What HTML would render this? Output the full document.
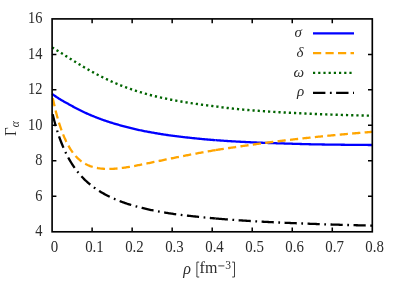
<!DOCTYPE html>
<html><head><meta charset="utf-8"><style>
html,body{margin:0;padding:0;background:#fff;}
body{width:400px;height:281px;overflow:hidden;position:relative;font-family:"Liberation Serif",serif;}
svg{position:absolute;left:0;top:0;will-change:transform;}
text{font-family:"Liberation Serif",serif;fill:#2b2b2b;}
</style></head><body>
<svg width="400" height="281" viewBox="0 0 400 281">
<rect x="0" y="0" width="400" height="281" fill="#fff"/>
<g fill="none" stroke-width="2.3" stroke-linecap="butt" stroke-linejoin="round">
<path d="M52.10,93.90 L53.10,94.62 L54.10,95.34 L55.10,96.04 L56.10,96.74 L57.10,97.42 L58.10,98.07 L59.10,98.71 L60.11,99.32 L61.11,99.91 L62.11,100.49 L63.11,101.06 L64.11,101.63 L65.11,102.20 L66.11,102.76 L67.11,103.31 L68.11,103.87 L69.11,104.42 L70.11,104.97 L71.11,105.52 L72.11,106.07 L73.11,106.62 L74.11,107.16 L75.11,107.71 L76.11,108.24 L77.12,108.77 L78.12,109.30 L79.12,109.82 L80.12,110.32 L81.12,110.82 L82.12,111.31 L83.12,111.79 L84.12,112.25 L85.12,112.71 L86.12,113.16 L87.12,113.61 L88.12,114.04 L89.12,114.47 L90.12,114.90 L91.12,115.32 L92.12,115.73 L93.13,116.14 L94.13,116.55 L95.13,116.95 L96.13,117.34 L97.13,117.74 L98.13,118.12 L99.13,118.50 L100.13,118.88 L101.13,119.24 L102.13,119.61 L103.13,119.97 L104.13,120.32 L105.13,120.67 L106.13,121.01 L107.13,121.35 L108.14,121.68 L109.14,122.01 L110.14,122.33 L111.14,122.64 L112.14,122.95 L113.14,123.25 L114.14,123.55 L115.14,123.85 L116.14,124.14 L117.14,124.43 L118.14,124.71 L119.14,124.99 L120.14,125.27 L121.14,125.55 L122.14,125.82 L123.14,126.08 L124.14,126.34 L125.15,126.60 L126.15,126.85 L127.15,127.11 L128.15,127.36 L129.15,127.60 L130.15,127.85 L131.15,128.10 L132.15,128.35 L133.15,128.60 L134.15,128.85 L135.15,129.09 L136.15,129.33 L137.15,129.57 L138.15,129.80 L139.15,130.03 L140.16,130.25 L141.16,130.47 L142.16,130.68 L143.16,130.88 L144.16,131.08 L145.16,131.27 L146.16,131.46 L147.16,131.64 L148.16,131.82 L149.16,132.00 L150.16,132.18 L151.16,132.36 L152.16,132.54 L153.16,132.72 L154.16,132.90 L155.16,133.08 L156.16,133.25 L157.17,133.43 L158.17,133.60 L159.17,133.76 L160.17,133.93 L161.17,134.09 L162.17,134.25 L163.17,134.41 L164.17,134.57 L165.17,134.72 L166.17,134.86 L167.17,135.01 L168.17,135.15 L169.17,135.29 L170.17,135.42 L171.17,135.55 L172.17,135.68 L173.18,135.81 L174.18,135.94 L175.18,136.07 L176.18,136.19 L177.18,136.32 L178.18,136.44 L179.18,136.57 L180.18,136.69 L181.18,136.81 L182.18,136.93 L183.18,137.05 L184.18,137.16 L185.18,137.28 L186.18,137.39 L187.18,137.51 L188.19,137.62 L189.19,137.73 L190.19,137.84 L191.19,137.95 L192.19,138.05 L193.19,138.16 L194.19,138.26 L195.19,138.37 L196.19,138.47 L197.19,138.57 L198.19,138.67 L199.19,138.76 L200.19,138.86 L201.19,138.95 L202.19,139.05 L203.19,139.14 L204.19,139.23 L205.20,139.32 L206.20,139.40 L207.20,139.49 L208.20,139.58 L209.20,139.66 L210.20,139.74 L211.20,139.83 L212.20,139.91 L213.20,139.99 L214.20,140.06 L215.20,140.14 L215.70,140.18" stroke="#0000ff" stroke-dashoffset="0"/>
<path d="M215.70,140.18 L216.20,140.22 L217.20,140.29 L218.20,140.37 L219.20,140.44 L220.20,140.51 L221.21,140.58 L222.21,140.65 L223.21,140.72 L224.21,140.79 L225.21,140.86 L226.21,140.92 L227.21,140.99 L228.21,141.05 L229.21,141.11 L230.21,141.18 L231.21,141.24 L232.21,141.30 L233.21,141.36 L234.21,141.42 L235.21,141.47 L236.21,141.53 L237.22,141.59 L238.22,141.64 L239.22,141.70 L240.22,141.75 L241.22,141.80 L242.22,141.86 L243.22,141.91 L244.22,141.96 L245.22,142.01 L246.22,142.06 L247.22,142.11 L248.22,142.15 L249.22,142.20 L250.22,142.25 L251.22,142.29 L252.22,142.34 L253.23,142.38 L254.23,142.43 L255.23,142.47 L256.23,142.51 L257.23,142.55 L258.23,142.60 L259.23,142.64 L260.23,142.68 L261.23,142.72 L262.23,142.76 L263.23,142.79 L264.23,142.83 L265.23,142.87 L266.23,142.91 L267.23,142.94 L268.24,142.98 L269.24,143.02 L270.24,143.05 L271.24,143.09 L272.24,143.12 L273.24,143.15 L274.24,143.19 L275.24,143.22 L276.24,143.25 L277.24,143.29 L278.24,143.32 L279.24,143.35 L280.24,143.38 L281.24,143.41 L282.24,143.44 L283.24,143.47 L284.24,143.51 L285.25,143.54 L286.25,143.57 L287.25,143.60 L288.25,143.63 L289.25,143.66 L290.25,143.69 L291.25,143.72 L292.25,143.76 L293.25,143.79 L294.25,143.82 L295.25,143.85 L296.25,143.88 L297.25,143.91 L298.25,143.94 L299.25,143.96 L300.25,143.99 L301.26,144.02 L302.26,144.05 L303.26,144.08 L304.26,144.10 L305.26,144.13 L306.26,144.16 L307.26,144.18 L308.26,144.21 L309.26,144.23 L310.26,144.26 L311.26,144.28 L312.26,144.30 L313.26,144.32 L314.26,144.34 L315.26,144.36 L316.26,144.38 L317.27,144.40 L318.27,144.42 L319.27,144.44 L320.27,144.45 L321.27,144.47 L322.27,144.48 L323.27,144.50 L324.27,144.51 L325.27,144.53 L326.27,144.54 L327.27,144.56 L328.27,144.57 L329.27,144.59 L330.27,144.60 L331.27,144.61 L332.28,144.63 L333.28,144.64 L334.28,144.65 L335.28,144.66 L336.28,144.68 L337.28,144.69 L338.28,144.70 L339.28,144.71 L340.28,144.72 L341.28,144.74 L342.28,144.75 L343.28,144.76 L344.28,144.77 L345.28,144.78 L346.28,144.79 L347.28,144.80 L348.28,144.81 L349.29,144.82 L350.29,144.83 L351.29,144.84 L352.29,144.85 L353.29,144.86 L354.29,144.87 L355.29,144.88 L356.29,144.89 L357.29,144.90 L358.29,144.90 L359.29,144.91 L360.29,144.92 L361.29,144.93 L362.29,144.94 L363.29,144.94 L364.30,144.95 L365.30,144.96 L366.30,144.97 L367.30,144.97 L368.30,144.98 L369.30,144.99 L370.30,145.00 L371.30,145.00 L372.30,145.01" stroke="#0000ff" stroke-dashoffset="0"/>
<path d="M52.10,94.93 L53.10,99.75 L54.10,104.27 L55.10,108.52 L56.10,112.51 L57.10,116.26 L58.10,119.78 L59.10,123.08 L60.11,126.19 L61.11,129.10 L62.11,131.84 L63.11,134.42 L64.11,136.83 L65.11,139.10 L66.11,141.24 L67.11,143.24 L68.11,145.13 L69.11,146.90 L70.11,148.56 L71.11,150.12 L72.11,151.58 L73.11,152.95 L74.11,154.24 L75.11,155.44 L76.11,156.56 L77.12,157.61 L78.12,158.58 L79.12,159.49 L80.12,160.34 L81.12,161.12 L82.12,161.85 L83.12,162.53 L84.12,163.16 L85.12,163.75 L86.12,164.29 L87.12,164.79 L88.12,165.26 L89.12,165.68 L90.12,166.08 L91.12,166.44 L92.12,166.77 L93.13,167.07 L94.13,167.34 L95.13,167.59 L96.13,167.81 L97.13,168.00 L98.13,168.18 L99.13,168.33 L100.13,168.47 L101.13,168.58 L102.13,168.68 L103.13,168.76 L104.13,168.82 L105.13,168.87 L106.13,168.91 L107.13,168.93 L108.14,168.93 L109.14,168.93 L110.14,168.91 L111.14,168.88 L112.14,168.84 L113.14,168.80 L114.14,168.74 L115.14,168.67 L116.14,168.59 L117.14,168.51 L118.14,168.41 L119.14,168.31 L120.14,168.20 L121.14,168.08 L122.14,167.95 L123.14,167.82 L124.14,167.68 L125.15,167.53 L126.15,167.38 L127.15,167.23 L128.15,167.06 L129.15,166.90 L130.15,166.73 L131.15,166.55 L132.15,166.38 L133.15,166.19 L134.15,166.01 L135.15,165.82 L136.15,165.63 L137.15,165.44 L138.15,165.24 L139.15,165.05 L140.16,164.85 L141.16,164.65 L142.16,164.45 L143.16,164.25 L144.16,164.04 L145.16,163.84 L146.16,163.64 L147.16,163.43 L148.16,163.23 L149.16,163.02 L150.16,162.82 L151.16,162.61 L152.16,162.41 L153.16,162.20 L154.16,161.99 L155.16,161.79 L156.16,161.58 L157.17,161.37 L158.17,161.16 L159.17,160.95 L160.17,160.75 L161.17,160.54 L162.17,160.33 L163.17,160.12 L164.17,159.91 L165.17,159.70 L166.17,159.49 L167.17,159.29 L168.17,159.08 L169.17,158.87 L170.17,158.66 L171.17,158.46 L172.17,158.25 L173.18,158.05 L174.18,157.84 L175.18,157.64 L176.18,157.44 L177.18,157.23 L178.18,157.03 L179.18,156.83 L180.18,156.63 L181.18,156.43 L182.18,156.23 L183.18,156.03 L184.18,155.84 L185.18,155.64 L186.18,155.45 L187.18,155.25 L188.19,155.06 L189.19,154.87 L190.19,154.68 L191.19,154.49 L192.19,154.30 L193.19,154.11 L194.19,153.92 L195.19,153.73 L196.19,153.55 L197.19,153.36 L198.19,153.17 L199.19,152.99 L200.19,152.81 L201.19,152.62 L202.19,152.44 L203.19,152.26 L204.19,152.08 L205.20,151.90 L206.20,151.72 L207.20,151.54 L208.20,151.37 L209.20,151.19 L210.20,151.01 L211.20,150.84 L212.20,150.66 L213.20,150.49 L214.20,150.32 L215.20,150.15 L215.70,150.06" stroke="#ffa500" stroke-dasharray="8.2 4.3" stroke-dashoffset="-3.5"/>
<path d="M215.70,150.06 L216.20,149.98 L217.20,149.81 L218.20,149.65 L219.20,149.49 L220.20,149.33 L221.21,149.17 L222.21,149.02 L223.21,148.87 L224.21,148.72 L225.21,148.57 L226.21,148.42 L227.21,148.28 L228.21,148.13 L229.21,147.99 L230.21,147.84 L231.21,147.70 L232.21,147.56 L233.21,147.42 L234.21,147.27 L235.21,147.13 L236.21,146.99 L237.22,146.84 L238.22,146.70 L239.22,146.55 L240.22,146.41 L241.22,146.26 L242.22,146.11 L243.22,145.97 L244.22,145.82 L245.22,145.67 L246.22,145.53 L247.22,145.39 L248.22,145.24 L249.22,145.10 L250.22,144.96 L251.22,144.82 L252.22,144.68 L253.23,144.54 L254.23,144.40 L255.23,144.26 L256.23,144.12 L257.23,143.98 L258.23,143.85 L259.23,143.71 L260.23,143.58 L261.23,143.44 L262.23,143.31 L263.23,143.17 L264.23,143.04 L265.23,142.91 L266.23,142.78 L267.23,142.64 L268.24,142.51 L269.24,142.38 L270.24,142.25 L271.24,142.13 L272.24,142.00 L273.24,141.87 L274.24,141.74 L275.24,141.62 L276.24,141.49 L277.24,141.37 L278.24,141.24 L279.24,141.12 L280.24,140.99 L281.24,140.87 L282.24,140.75 L283.24,140.63 L284.24,140.51 L285.25,140.39 L286.25,140.27 L287.25,140.15 L288.25,140.03 L289.25,139.91 L290.25,139.80 L291.25,139.68 L292.25,139.56 L293.25,139.45 L294.25,139.33 L295.25,139.22 L296.25,139.10 L297.25,138.99 L298.25,138.88 L299.25,138.77 L300.25,138.65 L301.26,138.54 L302.26,138.43 L303.26,138.32 L304.26,138.21 L305.26,138.10 L306.26,138.00 L307.26,137.89 L308.26,137.78 L309.26,137.67 L310.26,137.57 L311.26,137.46 L312.26,137.36 L313.26,137.25 L314.26,137.15 L315.26,137.04 L316.26,136.94 L317.27,136.84 L318.27,136.73 L319.27,136.63 L320.27,136.53 L321.27,136.43 L322.27,136.33 L323.27,136.23 L324.27,136.13 L325.27,136.03 L326.27,135.93 L327.27,135.83 L328.27,135.73 L329.27,135.64 L330.27,135.54 L331.27,135.44 L332.28,135.35 L333.28,135.25 L334.28,135.16 L335.28,135.06 L336.28,134.97 L337.28,134.87 L338.28,134.78 L339.28,134.69 L340.28,134.59 L341.28,134.50 L342.28,134.41 L343.28,134.32 L344.28,134.23 L345.28,134.14 L346.28,134.05 L347.28,133.96 L348.28,133.87 L349.29,133.78 L350.29,133.69 L351.29,133.60 L352.29,133.51 L353.29,133.42 L354.29,133.34 L355.29,133.25 L356.29,133.16 L357.29,133.08 L358.29,132.99 L359.29,132.90 L360.29,132.82 L361.29,132.73 L362.29,132.65 L363.29,132.57 L364.30,132.48 L365.30,132.40 L366.30,132.32 L367.30,132.23 L368.30,132.15 L369.30,132.07 L370.30,131.99 L371.30,131.90 L372.30,131.82" stroke="#ffa500" stroke-dasharray="8.2 4.3" stroke-dashoffset="0"/>
<path d="M52.10,47.44 L53.10,48.04 L54.10,48.65 L55.10,49.25 L56.10,49.87 L57.10,50.48 L58.10,51.10 L59.10,51.72 L60.11,52.35 L61.11,52.98 L62.11,53.60 L63.11,54.23 L64.11,54.87 L65.11,55.50 L66.11,56.13 L67.11,56.76 L68.11,57.39 L69.11,58.02 L70.11,58.65 L71.11,59.28 L72.11,59.91 L73.11,60.53 L74.11,61.15 L75.11,61.77 L76.11,62.39 L77.12,63.01 L78.12,63.62 L79.12,64.23 L80.12,64.83 L81.12,65.43 L82.12,66.03 L83.12,66.63 L84.12,67.22 L85.12,67.80 L86.12,68.39 L87.12,68.96 L88.12,69.54 L89.12,70.10 L90.12,70.67 L91.12,71.23 L92.12,71.78 L93.13,72.33 L94.13,72.87 L95.13,73.41 L96.13,73.95 L97.13,74.48 L98.13,75.00 L99.13,75.52 L100.13,76.03 L101.13,76.54 L102.13,77.04 L103.13,77.53 L104.13,78.02 L105.13,78.51 L106.13,78.99 L107.13,79.46 L108.14,79.93 L109.14,80.39 L110.14,80.85 L111.14,81.30 L112.14,81.75 L113.14,82.19 L114.14,82.62 L115.14,83.05 L116.14,83.48 L117.14,83.90 L118.14,84.31 L119.14,84.72 L120.14,85.12 L121.14,85.52 L122.14,85.92 L123.14,86.30 L124.14,86.69 L125.15,87.07 L126.15,87.44 L127.15,87.81 L128.15,88.17 L129.15,88.53 L130.15,88.88 L131.15,89.23 L132.15,89.58 L133.15,89.92 L134.15,90.25 L135.15,90.58 L136.15,90.91 L137.15,91.23 L138.15,91.55 L139.15,91.86 L140.16,92.17 L141.16,92.47 L142.16,92.77 L143.16,93.07 L144.16,93.36 L145.16,93.64 L146.16,93.92 L147.16,94.20 L148.16,94.47 L149.16,94.73 L150.16,95.00 L151.16,95.26 L152.16,95.51 L153.16,95.76 L154.16,96.01 L155.16,96.25 L156.16,96.49 L157.17,96.72 L158.17,96.96 L159.17,97.19 L160.17,97.41 L161.17,97.63 L162.17,97.85 L163.17,98.07 L164.17,98.28 L165.17,98.49 L166.17,98.70 L167.17,98.90 L168.17,99.11 L169.17,99.31 L170.17,99.50 L171.17,99.70 L172.17,99.89 L173.18,100.08 L174.18,100.27 L175.18,100.46 L176.18,100.64 L177.18,100.83 L178.18,101.01 L179.18,101.19 L180.18,101.36 L181.18,101.54 L182.18,101.71 L183.18,101.88 L184.18,102.05 L185.18,102.22 L186.18,102.38 L187.18,102.55 L188.19,102.71 L189.19,102.86 L190.19,103.02 L191.19,103.17 L192.19,103.33 L193.19,103.48 L194.19,103.62 L195.19,103.77 L196.19,103.92 L197.19,104.06 L198.19,104.20 L199.19,104.34 L200.19,104.48 L201.19,104.61 L202.19,104.75 L203.19,104.88 L204.19,105.01 L205.20,105.14 L206.20,105.27 L207.20,105.39 L208.20,105.52 L209.20,105.64 L210.20,105.76 L211.20,105.88 L212.20,106.00 L213.20,106.12 L214.20,106.24 L215.20,106.35 L216.20,106.47 L216.30,106.48" stroke="#006400" stroke-width="2.4" stroke-dasharray="2.2 3.0" stroke-dashoffset="0"/>
<path d="M216.30,106.48 L217.20,106.58 L218.20,106.69 L219.20,106.84 L220.20,107.02 L221.21,107.19 L222.21,107.33 L223.21,107.46 L224.21,107.58 L225.21,107.70 L226.21,107.82 L227.21,107.94 L228.21,108.05 L229.21,108.17 L230.21,108.28 L231.21,108.39 L232.21,108.50 L233.21,108.61 L234.21,108.71 L235.21,108.81 L236.21,108.92 L237.22,109.02 L238.22,109.11 L239.22,109.21 L240.22,109.31 L241.22,109.40 L242.22,109.49 L243.22,109.59 L244.22,109.68 L245.22,109.76 L246.22,109.85 L247.22,109.94 L248.22,110.02 L249.22,110.11 L250.22,110.19 L251.22,110.27 L252.22,110.35 L253.23,110.43 L254.23,110.51 L255.23,110.59 L256.23,110.66 L257.23,110.74 L258.23,110.81 L259.23,110.89 L260.23,110.96 L261.23,111.03 L262.23,111.10 L263.23,111.17 L264.23,111.24 L265.23,111.31 L266.23,111.38 L267.23,111.45 L268.24,111.51 L269.24,111.58 L270.24,111.65 L271.24,111.71 L272.24,111.77 L273.24,111.84 L274.24,111.90 L275.24,111.96 L276.24,112.02 L277.24,112.08 L278.24,112.14 L279.24,112.20 L280.24,112.26 L281.24,112.32 L282.24,112.38 L283.24,112.43 L284.24,112.49 L285.25,112.55 L286.25,112.60 L287.25,112.66 L288.25,112.71 L289.25,112.76 L290.25,112.82 L291.25,112.87 L292.25,112.92 L293.25,112.97 L294.25,113.02 L295.25,113.07 L296.25,113.12 L297.25,113.17 L298.25,113.22 L299.25,113.27 L300.25,113.32 L301.26,113.36 L302.26,113.41 L303.26,113.46 L304.26,113.50 L305.26,113.55 L306.26,113.59 L307.26,113.64 L308.26,113.68 L309.26,113.73 L310.26,113.77 L311.26,113.81 L312.26,113.85 L313.26,113.90 L314.26,113.94 L315.26,113.98 L316.26,114.02 L317.27,114.06 L318.27,114.10 L319.27,114.14 L320.27,114.18 L321.27,114.21 L322.27,114.25 L323.27,114.29 L324.27,114.33 L325.27,114.36 L326.27,114.40 L327.27,114.44 L328.27,114.47 L329.27,114.51 L330.27,114.54 L331.27,114.58 L332.28,114.61 L333.28,114.65 L334.28,114.68 L335.28,114.71 L336.28,114.75 L337.28,114.78 L338.28,114.81 L339.28,114.84 L340.28,114.87 L341.28,114.91 L342.28,114.94 L343.28,114.97 L344.28,115.00 L345.28,115.03 L346.28,115.06 L347.28,115.09 L348.28,115.12 L349.29,115.14 L350.29,115.17 L351.29,115.20 L352.29,115.23 L353.29,115.26 L354.29,115.28 L355.29,115.31 L356.29,115.34 L357.29,115.36 L358.29,115.39 L359.29,115.41 L360.29,115.44 L361.29,115.47 L362.29,115.49 L363.29,115.51 L364.30,115.54 L365.30,115.56 L366.30,115.59 L367.30,115.61 L368.30,115.63 L369.30,115.66 L370.30,115.68 L371.30,115.70 L372.30,115.72" stroke="#006400" stroke-width="2.4" stroke-dasharray="2.2 3.0" stroke-dashoffset="0"/>
<path d="M52.10,111.91 L53.10,116.10 L54.10,120.04 L55.10,123.74 L56.10,127.23 L57.10,130.53 L58.10,133.64 L59.10,136.59 L60.11,139.38 L61.11,142.03 L62.11,144.54 L63.11,146.93 L64.11,149.21 L65.11,151.38 L66.11,153.45 L67.11,155.43 L68.11,157.32 L69.11,159.12 L70.11,160.85 L71.11,162.51 L72.11,164.10 L73.11,165.62 L74.11,167.09 L75.11,168.50 L76.11,169.85 L77.12,171.16 L78.12,172.42 L79.12,173.63 L80.12,174.79 L81.12,175.92 L82.12,177.01 L83.12,178.06 L84.12,179.07 L85.12,180.06 L86.12,181.00 L87.12,181.92 L88.12,182.81 L89.12,183.67 L90.12,184.50 L91.12,185.31 L92.12,186.09 L93.13,186.84 L94.13,187.58 L95.13,188.29 L96.13,188.99 L97.13,189.66 L98.13,190.31 L99.13,190.95 L100.13,191.57 L101.13,192.17 L102.13,192.76 L103.13,193.33 L104.13,193.88 L105.13,194.43 L106.13,194.96 L107.13,195.47 L108.14,195.98 L109.14,196.47 L110.14,196.95 L111.14,197.42 L112.14,197.88 L113.14,198.33 L114.14,198.77 L115.14,199.20 L116.14,199.62 L117.14,200.04 L118.14,200.44 L119.14,200.84 L120.14,201.22 L121.14,201.60 L122.14,201.98 L123.14,202.34 L124.14,202.69 L125.15,203.04 L126.15,203.38 L127.15,203.72 L128.15,204.05 L129.15,204.36 L130.15,204.68 L131.15,204.98 L132.15,205.28 L133.15,205.58 L134.15,205.87 L135.15,206.15 L136.15,206.43 L137.15,206.70 L138.15,206.97 L139.15,207.23 L140.16,207.49 L141.16,207.74 L142.16,207.99 L143.16,208.24 L144.16,208.48 L145.16,208.71 L146.16,208.94 L147.16,209.17 L148.16,209.39 L149.16,209.61 L150.16,209.82 L151.16,210.03 L152.16,210.24 L153.16,210.44 L154.16,210.64 L155.16,210.83 L156.16,211.03 L157.17,211.22 L158.17,211.40 L159.17,211.58 L160.17,211.76 L161.17,211.94 L162.17,212.12 L163.17,212.29 L164.17,212.46 L165.17,212.63 L166.17,212.79 L167.17,212.95 L168.17,213.11 L169.17,213.27 L170.17,213.42 L171.17,213.58 L172.17,213.73 L173.18,213.88 L174.18,214.02 L175.18,214.17 L176.18,214.31 L177.18,214.45 L178.18,214.58 L179.18,214.72 L180.18,214.84 L181.18,214.97 L182.18,215.09 L183.18,215.21 L184.18,215.32 L185.18,215.43 L186.18,215.54 L187.18,215.65 L188.19,215.76 L189.19,215.87 L190.19,215.97 L191.19,216.08 L192.19,216.18 L193.19,216.29 L194.19,216.39 L195.19,216.49 L196.19,216.60 L197.19,216.70 L198.19,216.81 L199.19,216.92 L200.19,217.02 L201.19,217.12 L202.19,217.23 L203.19,217.33 L204.19,217.43 L205.20,217.53 L206.20,217.62 L207.20,217.72 L208.20,217.81 L209.20,217.91 L210.20,218.00 L211.20,218.09 L212.20,218.18 L213.20,218.27 L214.20,218.36 L215.20,218.45 L215.70,218.50" stroke="#000" stroke-dasharray="12.2 4.55 1.75 4.5" stroke-dashoffset="-2.5"/>
<path d="M215.70,218.50 L216.20,218.54 L217.20,218.62 L218.20,218.71 L219.20,218.79 L220.20,218.88 L221.21,218.96 L222.21,219.04 L223.21,219.12 L224.21,219.20 L225.21,219.28 L226.21,219.36 L227.21,219.44 L228.21,219.51 L229.21,219.59 L230.21,219.66 L231.21,219.74 L232.21,219.81 L233.21,219.88 L234.21,219.96 L235.21,220.03 L236.21,220.10 L237.22,220.17 L238.22,220.24 L239.22,220.31 L240.22,220.37 L241.22,220.44 L242.22,220.51 L243.22,220.57 L244.22,220.64 L245.22,220.70 L246.22,220.76 L247.22,220.83 L248.22,220.89 L249.22,220.95 L250.22,221.01 L251.22,221.07 L252.22,221.13 L253.23,221.19 L254.23,221.25 L255.23,221.30 L256.23,221.36 L257.23,221.42 L258.23,221.47 L259.23,221.53 L260.23,221.58 L261.23,221.64 L262.23,221.69 L263.23,221.74 L264.23,221.80 L265.23,221.85 L266.23,221.90 L267.23,221.95 L268.24,222.00 L269.24,222.05 L270.24,222.10 L271.24,222.15 L272.24,222.20 L273.24,222.24 L274.24,222.29 L275.24,222.34 L276.24,222.39 L277.24,222.43 L278.24,222.48 L279.24,222.52 L280.24,222.57 L281.24,222.62 L282.24,222.66 L283.24,222.70 L284.24,222.75 L285.25,222.79 L286.25,222.84 L287.25,222.88 L288.25,222.92 L289.25,222.96 L290.25,223.01 L291.25,223.05 L292.25,223.09 L293.25,223.13 L294.25,223.17 L295.25,223.21 L296.25,223.25 L297.25,223.29 L298.25,223.33 L299.25,223.37 L300.25,223.41 L301.26,223.45 L302.26,223.49 L303.26,223.53 L304.26,223.57 L305.26,223.61 L306.26,223.64 L307.26,223.68 L308.26,223.72 L309.26,223.76 L310.26,223.79 L311.26,223.83 L312.26,223.86 L313.26,223.90 L314.26,223.94 L315.26,223.97 L316.26,224.01 L317.27,224.04 L318.27,224.08 L319.27,224.11 L320.27,224.14 L321.27,224.18 L322.27,224.21 L323.27,224.25 L324.27,224.28 L325.27,224.31 L326.27,224.35 L327.27,224.38 L328.27,224.41 L329.27,224.44 L330.27,224.47 L331.27,224.51 L332.28,224.54 L333.28,224.57 L334.28,224.60 L335.28,224.63 L336.28,224.66 L337.28,224.69 L338.28,224.72 L339.28,224.75 L340.28,224.78 L341.28,224.81 L342.28,224.84 L343.28,224.87 L344.28,224.90 L345.28,224.93 L346.28,224.96 L347.28,224.99 L348.28,225.01 L349.29,225.04 L350.29,225.07 L351.29,225.10 L352.29,225.13 L353.29,225.15 L354.29,225.18 L355.29,225.21 L356.29,225.24 L357.29,225.26 L358.29,225.29 L359.29,225.32 L360.29,225.34 L361.29,225.37 L362.29,225.40 L363.29,225.42 L364.30,225.45 L365.30,225.47 L366.30,225.50 L367.30,225.52 L368.30,225.55 L369.30,225.58 L370.30,225.60 L371.30,225.63 L372.30,225.65" stroke="#000" stroke-dasharray="12.2 4.55 1.75 4.5" stroke-dashoffset="0"/>
<path d="M313,33.35 H354" stroke="#0000ff" stroke-width="2.2"/>
<path d="M313,53.15 H354" stroke="#ffa500" stroke-width="2.2" stroke-dasharray="8.2 4.3"/>
<path d="M313,72.9 H354" stroke="#006400" stroke-width="2.3" stroke-dasharray="2.2 3"/>
<path d="M313,92.85 H354" stroke="#000" stroke-width="2.4" stroke-dasharray="12.4 4.5 1.8 4.4"/>
</g>
<g fill="none" stroke="#000" stroke-width="1.5">
<path d="M92.12,231.8 v-4.3 M92.12,18.9 v4.3" />
<path d="M132.15,231.8 v-4.3 M132.15,18.9 v4.3" />
<path d="M172.17,231.8 v-4.3 M172.17,18.9 v4.3" />
<path d="M212.20,231.8 v-4.3 M212.20,18.9 v4.3" />
<path d="M252.22,231.8 v-4.3 M252.22,18.9 v4.3" />
<path d="M292.25,231.8 v-4.3 M292.25,18.9 v4.3" />
<path d="M332.28,231.8 v-4.3 M332.28,18.9 v4.3" />
<path d="M52.1,54.38 h4.3 M372.3,54.38 h-4.3" />
<path d="M52.1,89.87 h4.3 M372.3,89.87 h-4.3" />
<path d="M52.1,125.35 h4.3 M372.3,125.35 h-4.3" />
<path d="M52.1,160.83 h4.3 M372.3,160.83 h-4.3" />
<path d="M52.1,196.32 h4.3 M372.3,196.32 h-4.3" />
</g>
<rect x="52.1" y="18.9" width="320.20" height="212.90" fill="none" stroke="#000" stroke-width="1.65"/>
<g font-size="16" text-anchor="end">
<text transform="translate(42.4,23.20) scale(0.90,1)">16</text>
<text transform="translate(42.4,58.68) scale(0.90,1)">14</text>
<text transform="translate(42.4,94.17) scale(0.90,1)">12</text>
<text transform="translate(42.4,129.65) scale(0.90,1)">10</text>
<text transform="translate(42.4,165.13) scale(0.90,1)">8</text>
<text transform="translate(42.4,200.62) scale(0.90,1)">6</text>
<text transform="translate(42.4,236.10) scale(0.90,1)">4</text>
</g>
<g font-size="16" text-anchor="middle">
<text transform="translate(54.40,251.8) scale(0.93,1)">0</text>
<text transform="translate(94.42,251.8) scale(0.93,1)">0.1</text>
<text transform="translate(134.45,251.8) scale(0.93,1)">0.2</text>
<text transform="translate(174.47,251.8) scale(0.93,1)">0.3</text>
<text transform="translate(214.50,251.8) scale(0.93,1)">0.4</text>
<text transform="translate(254.53,251.8) scale(0.93,1)">0.5</text>
<text transform="translate(294.55,251.8) scale(0.93,1)">0.6</text>
<text transform="translate(334.58,251.8) scale(0.93,1)">0.7</text>
<text transform="translate(374.60,251.8) scale(0.93,1)">0.8</text>
</g>
<g font-size="15">
<text x="183.3" y="273.9" font-size="16" font-style="italic">ρ</text>
<text x="199.6" y="273.2" font-size="16">fm</text>
<text x="225.2" y="268.6" font-size="11.5">3</text>
<path d="M199.2,262.1 H196.9 V277.0 H199.2 M218.3,265.9 H224.4 M232.2,262.1 H234.5 V277.0 H232.2" fill="none" stroke="#2b2b2b" stroke-width="0.9"/>
<text transform="translate(16,136) rotate(-90) scale(0.915,1)" font-size="16.4">Γ<tspan font-size="12.5" dy="3" font-style="italic">α</tspan></text>
<text x="294.5" y="37" font-style="italic">σ</text>
<text x="296.5" y="57.3" font-style="italic">δ</text>
<text x="293.4" y="76.6" font-style="italic">ω</text>
<text x="297.1" y="96.4" font-style="italic">ρ</text>
</g>
</svg>
</body></html>
